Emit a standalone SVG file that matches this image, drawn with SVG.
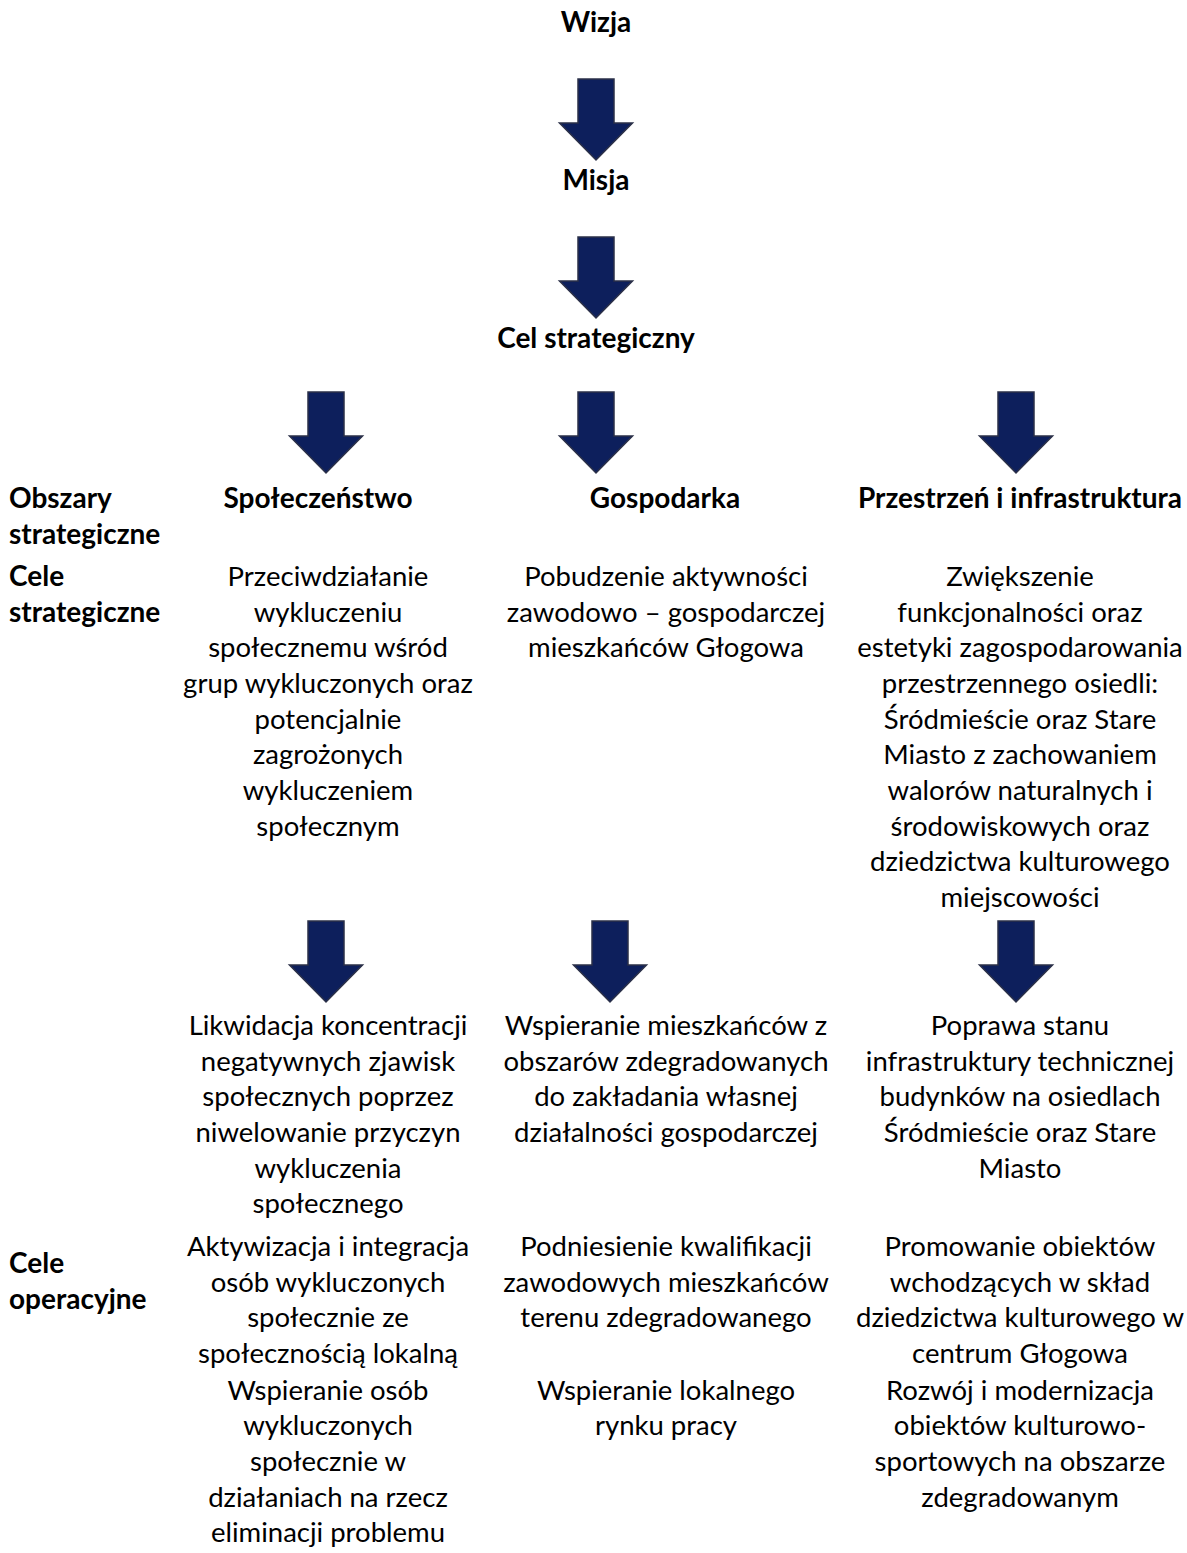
<svg xmlns="http://www.w3.org/2000/svg" width="1187" height="1553" viewBox="0 0 1187 1553">
<defs>
<style>
text{font-family:Lato,"Liberation Sans",sans-serif;font-size:27.5px;fill:#000}
.b{font-weight:bold;font-size:28px}
.c{text-anchor:middle}
.arr{fill:#0d1f5c;stroke:#2b3048;stroke-width:1.5;stroke-linejoin:miter}
</style>
<path id="arrow" class="arr" d="M-18,0 H18 V44 H36.5 L0,81 L-36.5,44 H-18 Z"/>
</defs>
<rect width="1187" height="1553" fill="#fff"/>
<g id="connectors">
<use href="#arrow" x="596" y="79"/>
<use href="#arrow" x="596" y="237"/>
<use href="#arrow" x="326" y="392"/>
<use href="#arrow" x="596" y="392"/>
<use href="#arrow" x="1016" y="392"/>
<use href="#arrow" x="326" y="921"/>
<use href="#arrow" x="610" y="921"/>
<use href="#arrow" x="1016" y="921"/>
</g>
<g id="wizja"><text class="b c" x="596" y="32">Wizja</text></g>
<g id="misja"><text class="b c" x="596" y="190">Misja</text></g>
<g id="cel-strategiczny"><text class="b c" x="596" y="348">Cel strategiczny</text></g>
<g id="label-obszary"><text class="b" x="9" y="508">Obszary</text><text class="b" x="9" y="544">strategiczne</text></g>
<g id="label-cele-strategiczne"><text class="b" x="9" y="586">Cele</text><text class="b" x="9" y="622">strategiczne</text></g>
<g id="label-cele-operacyjne"><text class="b" x="9" y="1273">Cele</text><text class="b" x="9" y="1309">operacyjne</text></g>
<g id="h-spoleczenstwo"><text class="b c" x="318" y="508">Społeczeństwo</text></g>
<g id="h-gospodarka"><text class="b c" x="665" y="508">Gospodarka</text></g>
<g id="h-przestrzen"><text class="b c" x="1020" y="508">Przestrzeń i infrastruktura</text></g>
<g id="cs1">
<text class="c" x="328" y="586">Przeciwdziałanie</text>
<text class="c" x="328" y="622">wykluczeniu</text>
<text class="c" x="328" y="657">społecznemu wśród</text>
<text class="c" x="328" y="693">grup wykluczonych oraz</text>
<text class="c" x="328" y="729">potencjalnie</text>
<text class="c" x="328" y="764">zagrożonych</text>
<text class="c" x="328" y="800">wykluczeniem</text>
<text class="c" x="328" y="836">społecznym</text>
</g>
<g id="cs2">
<text class="c" x="666" y="586">Pobudzenie aktywności</text>
<text class="c" x="666" y="622">zawodowo – gospodarczej</text>
<text class="c" x="666" y="657">mieszkańców Głogowa</text>
</g>
<g id="cs3">
<text class="c" x="1020" y="586">Zwiększenie</text>
<text class="c" x="1020" y="622">funkcjonalności oraz</text>
<text class="c" x="1020" y="657">estetyki zagospodarowania</text>
<text class="c" x="1020" y="693">przestrzennego osiedli:</text>
<text class="c" x="1020" y="729">Śródmieście oraz Stare</text>
<text class="c" x="1020" y="764">Miasto z zachowaniem</text>
<text class="c" x="1020" y="800">walorów naturalnych i</text>
<text class="c" x="1020" y="836">środowiskowych oraz</text>
<text class="c" x="1020" y="871">dziedzictwa kulturowego</text>
<text class="c" x="1020" y="907">miejscowości</text>
</g>
<g id="co1">
<text class="c" x="328" y="1035">Likwidacja koncentracji</text>
<text class="c" x="328" y="1071">negatywnych zjawisk</text>
<text class="c" x="328" y="1106">społecznych poprzez</text>
<text class="c" x="328" y="1142">niwelowanie przyczyn</text>
<text class="c" x="328" y="1178">wykluczenia</text>
<text class="c" x="328" y="1213">społecznego</text>
</g>
<g id="co2">
<text class="c" x="666" y="1035">Wspieranie mieszkańców z</text>
<text class="c" x="666" y="1071">obszarów zdegradowanych</text>
<text class="c" x="666" y="1106">do zakładania własnej</text>
<text class="c" x="666" y="1142">działalności gospodarczej</text>
</g>
<g id="co3">
<text class="c" x="1020" y="1035">Poprawa stanu</text>
<text class="c" x="1020" y="1071">infrastruktury technicznej</text>
<text class="c" x="1020" y="1106">budynków na osiedlach</text>
<text class="c" x="1020" y="1142">Śródmieście oraz Stare</text>
<text class="c" x="1020" y="1178">Miasto</text>
</g>
<g id="co4">
<text class="c" x="328" y="1256">Aktywizacja i integracja</text>
<text class="c" x="328" y="1292">osób wykluczonych</text>
<text class="c" x="328" y="1327">społecznie ze</text>
<text class="c" x="328" y="1363">społecznością lokalną</text>
</g>
<g id="co5">
<text class="c" x="666" y="1256">Podniesienie kwalifikacji</text>
<text class="c" x="666" y="1292">zawodowych mieszkańców</text>
<text class="c" x="666" y="1327">terenu zdegradowanego</text>
</g>
<g id="co6">
<text class="c" x="1020" y="1256">Promowanie obiektów</text>
<text class="c" x="1020" y="1292">wchodzących w skład</text>
<text class="c" x="1020" y="1327">dziedzictwa kulturowego w</text>
<text class="c" x="1020" y="1363">centrum Głogowa</text>
</g>
<g id="co7">
<text class="c" x="328" y="1400">Wspieranie osób</text>
<text class="c" x="328" y="1435">wykluczonych</text>
<text class="c" x="328" y="1471">społecznie w</text>
<text class="c" x="328" y="1507">działaniach na rzecz</text>
<text class="c" x="328" y="1542">eliminacji problemu</text>
</g>
<g id="co8">
<text class="c" x="666" y="1400">Wspieranie lokalnego</text>
<text class="c" x="666" y="1435">rynku pracy</text>
</g>
<g id="co9">
<text class="c" x="1020" y="1400">Rozwój i modernizacja</text>
<text class="c" x="1020" y="1435">obiektów kulturowo-</text>
<text class="c" x="1020" y="1471">sportowych na obszarze</text>
<text class="c" x="1020" y="1507">zdegradowanym</text>
</g>
</svg>
